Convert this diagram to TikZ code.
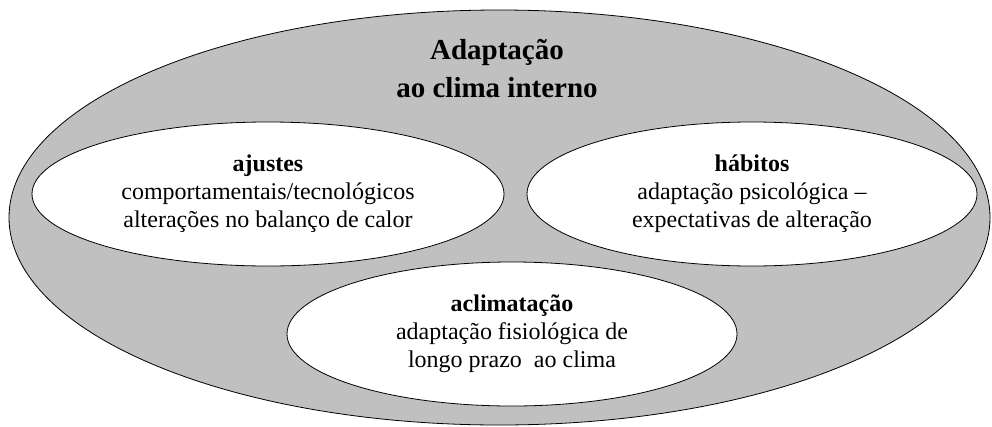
\documentclass[tikz,border=0pt]{standalone}
\usepackage{fontspec}
\setmainfont{Liberation Serif}
\usetikzlibrary{shapes.geometric,positioning}
\definecolor{climagray}{RGB}{192,192,192}

\begin{document}
\begin{tikzpicture}[x=1pt, y=-1pt, line width=0.8pt]
  \tikzstyle{every node}=[font=\fontsize{24}{28}\selectfont, align=center]
  \tikzstyle{blob}=[ellipse, draw=black, fill=white, inner sep=0pt]
  \useasboundingbox (0,0) rectangle (992,426);
  \node[blob, fill=climagray, minimum width=981pt, minimum height=415pt] (clima) at (499.5,217.5) {};
  \node[font=\fontsize{29}{38}\selectfont\bfseries] (titulo) at (497,69) {Adaptação\\ao clima interno};
  \node[blob, minimum width=472pt, minimum height=144pt] (ajustes) at (268,194)
       {\textbf{ajustes}\\comportamentais/tecnológicos\\alterações no balanço de calor};
  \node[blob, minimum width=450pt, minimum height=144pt] (habitos) at (752,194)
       {\textbf{hábitos}\\adaptação psicológica --\\expectativas de alteração};
  \node[blob, minimum width=450pt, minimum height=144pt] (aclima) at (512,334)
       {\textbf{aclimatação}\\adaptação fisiológica de\\longo prazo~ ao clima};
\end{tikzpicture}
\end{document}
